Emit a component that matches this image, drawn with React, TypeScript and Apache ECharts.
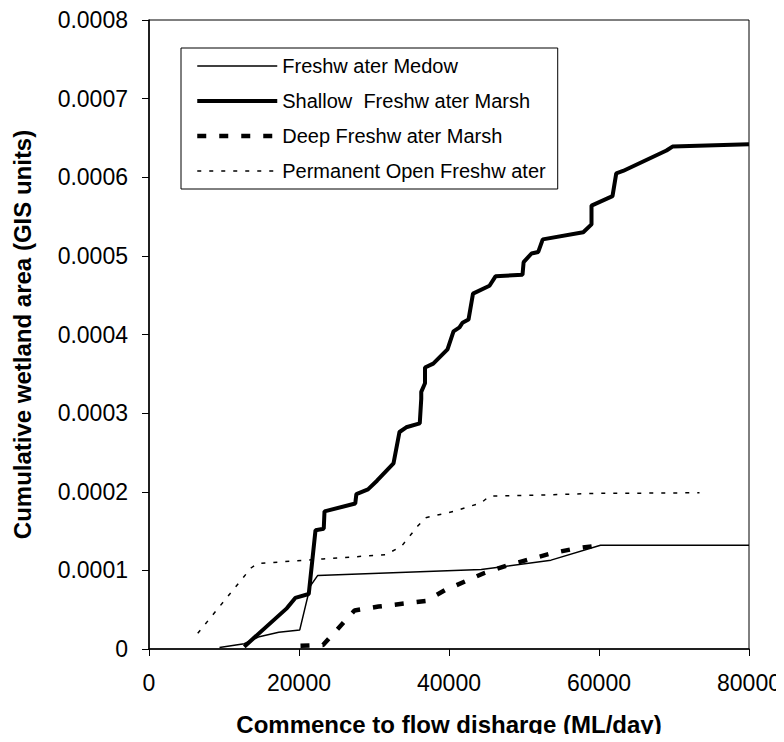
import React, { useEffect, useRef } from "react";
import * as echarts from "echarts";

const seriesNames = [
  "Freshw ater Medow",
  "Shallow  Freshw ater Marsh",
  "Deep Freshw ater Marsh",
  "Permanent Open Freshw ater",
];

const xTicks = [0, 20000, 40000, 60000, 80000];
const yTicks = [0, 0.0001, 0.0002, 0.0003, 0.0004, 0.0005, 0.0006, 0.0007, 0.0008];

const meadow: [number, number][] = [
  [9400, 0.000002], [12700, 0.0000068], [14700, 0.0000157], [17300, 0.0000213],
  [20100, 0.0000243], [21500, 0.00008], [22500, 0.0000936], [44300, 0.000101],
  [53600, 0.000113], [60200, 0.000132], [80000, 0.000132],
];

const shallow: [number, number][] = [
  [12700, 0.000003], [18400, 0.000052], [19500, 0.000065], [21300, 0.00007],
  [22200, 0.000151], [23300, 0.000153], [23400, 0.000175], [27500, 0.000185],
  [27650, 0.000197], [29200, 0.000203], [30400, 0.000214], [32600, 0.000236],
  [33400, 0.000276], [34300, 0.000282], [36100, 0.000287], [36300, 0.000318],
  [36300, 0.000327], [36800, 0.000338], [36800, 0.000358], [37900, 0.000363],
  [39800, 0.000381], [40600, 0.000404], [41400, 0.000409], [41800, 0.000415],
  [42600, 0.000419], [43200, 0.000452], [45400, 0.000462], [46200, 0.000474],
  [49800, 0.000476], [49950, 0.000492], [51000, 0.000503], [51900, 0.000505],
  [52500, 0.000521], [57900, 0.00053], [59000, 0.00054], [59000, 0.000564],
  [61800, 0.000576], [62300, 0.000605], [63200, 0.000608], [69000, 0.000634],
  [69800, 0.000639], [80000, 0.000642],
];

const deep: [number, number][] = [
  [20200, 0.000004], [23200, 0.000005], [27400, 0.000049], [30600, 0.000054],
  [36900, 0.000061], [39500, 0.000075], [44800, 0.000097], [48000, 0.000107],
  [53800, 0.000122], [57000, 0.000128], [60200, 0.000132],
];

const permanent: [number, number][] = [
  [6500, 0.00002], [13600, 0.000103], [14400, 0.0001085], [20500, 0.0001128],
  [23200, 0.0001145], [31600, 0.00012], [33700, 0.000131], [35800, 0.000156],
  [36900, 0.000167], [40600, 0.000175], [44300, 0.000186], [45400, 0.0001945],
  [51700, 0.0001957], [59600, 0.0001979], [73400, 0.0001987],
];

const FONT = "'Liberation Sans', Arial, sans-serif";

export default function App() {
  const ref = useRef<HTMLDivElement>(null);
  useEffect(() => {
    if (!ref.current) return;
    const chart = echarts.init(ref.current, null, { renderer: "svg" });
    const styles: { width: number; type: any }[] = [
      { width: 1.5, type: "solid" },
      { width: 4, type: "solid" },
      { width: 4.5, type: [9, 13] },
      { width: 1.5, type: [4, 8] },
    ];
    const datasets = [meadow, shallow, deep, permanent];
    chart.setOption({
      animation: false,
      backgroundColor: "#fff",
      grid: {
        left: 149, right: 35, top: 20, bottom: 93,
        show: true, borderColor: "#000", borderWidth: 1,
      },
      legend: {
        orient: "vertical",
        left: 181, top: 48,
        data: seriesNames.map((n, i) => ({
          name: n,
          itemStyle: { opacity: 0 },
          lineStyle: { color: "#000", width: styles[i].width, type: styles[i].type },
        })),
        itemWidth: 80, itemHeight: 14, itemGap: 15,
        padding: [8, 12, 8, 14],
        borderColor: "#000", borderWidth: 1, backgroundColor: "#fff",
        textStyle: { fontFamily: FONT, fontSize: 20, color: "#000" },
        selectedMode: false,
      },
      xAxis: {
        type: "value", min: xTicks[0], max: xTicks[xTicks.length - 1], interval: 20000,
        name: "Commence to flow disharge (ML/day)",
        nameLocation: "middle", nameGap: 63,
        nameTextStyle: { fontFamily: FONT, fontSize: 24, fontWeight: "bold", color: "#000" },
        axisLine: { show: true, lineStyle: { color: "#000", width: 1.5 } },
        axisTick: { show: true, inside: false, length: 7, lineStyle: { color: "#000" } },
        axisLabel: {
          fontFamily: FONT, fontSize: 23, color: "#000", margin: 22,
          formatter: (v: number) => String(v),
        },
        splitLine: { show: false },
      },
      yAxis: {
        type: "value", min: yTicks[0], max: yTicks[yTicks.length - 1], interval: 0.0001,
        name: "Cumulative wetland area (GIS units)",
        nameLocation: "middle", nameGap: 115,
        nameTextStyle: { fontFamily: FONT, fontSize: 24, fontWeight: "bold", color: "#000" },
        axisLine: { show: true, lineStyle: { color: "#000", width: 1.5 } },
        axisTick: { show: true, inside: false, length: 7, lineStyle: { color: "#000" } },
        axisLabel: {
          fontFamily: FONT, fontSize: 23, color: "#000", margin: 21,
          formatter: (v: number) => (v === 0 ? "0" : v.toFixed(4)),
        },
        splitLine: { show: false },
      },
      series: seriesNames.map((n, i) => ({
        name: n,
        type: "line",
        data: datasets[i],
        symbol: "none",
        showSymbol: false,
        lineStyle: { color: "#000", width: styles[i].width, type: styles[i].type },
        itemStyle: { color: "#000" },
        z: 3,
      })),
    });
    return () => chart.dispose();
  }, []);
  return <div ref={ref} style={{ width: 784, height: 742, margin: -8 }} />;
}
